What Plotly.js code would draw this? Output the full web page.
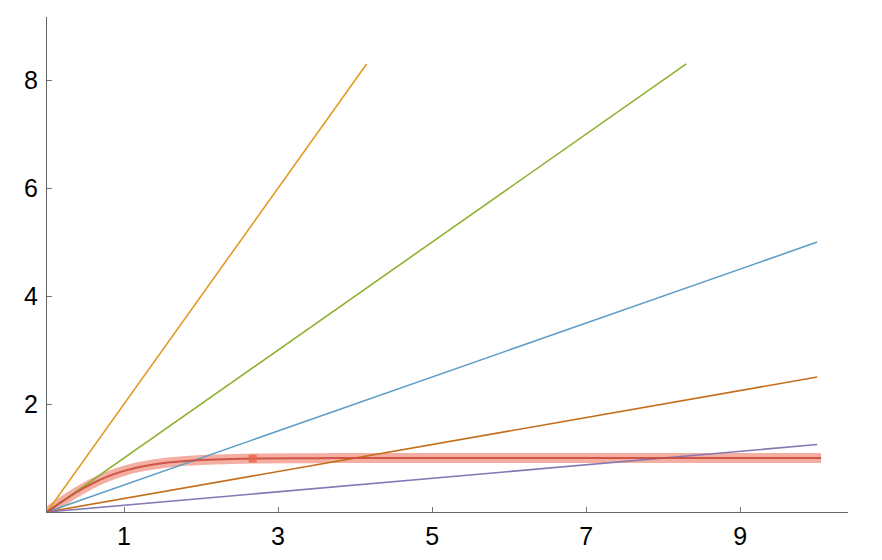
<!DOCTYPE html>
<html>
<head>
<meta charset="utf-8">
<script src="https://cdn.plot.ly/plotly-3.0.1.min.js"></script>
<style>html,body{margin:0;padding:0;background:#fff;}#chart{width:882px;height:560px;}</style>
</head>
<body>
<div id="chart"></div>
<script>
// Straight lines (endpoints)
const lineSteepX = [0, 4.15];
const lineSteepY = [0, 8.3];
const lineUnitX = [0, 8.3];
const lineUnitY = [0, 8.3];
const lineHalfX = [0, 10];
const lineHalfY = [0, 5.0];
const lineQuarterX = [0, 10];
const lineQuarterY = [0, 2.5];
const lineEighthX = [0, 10];
const lineEighthY = [0, 1.25];

// Saturating curve
const curveX = [0, 0.2, 0.4, 0.6, 0.8, 1.0, 1.2, 1.4, 1.6, 1.8, 2.0, 2.4, 2.8, 3.5, 4, 5, 6, 7, 8, 9, 10.05];
const curveY = [0, 0.197, 0.380, 0.537, 0.664, 0.762, 0.834, 0.885, 0.922, 0.947, 0.964, 0.984, 0.993, 0.998, 0.999, 1, 1, 1, 1, 1, 1];
const markerX = [2.67];
const markerY = [0.99];

const xTicks = [1, 3, 5, 7, 9];
const yTicks = [2, 4, 6, 8];

function ln(x, y, color) {
  return {x: x, y: y, mode: 'lines', line: {color: color, width: 1.6}, hoverinfo: 'skip'};
}

const traces = [
  {x: curveX, y: curveY, mode: 'lines', line: {color: 'rgba(235,110,85,0.55)', width: 10, shape: 'spline'}, hoverinfo: 'skip'},
  ln(lineSteepX, lineSteepY, '#E19C24'),
  ln(lineUnitX, lineUnitY, '#8FB032'),
  ln(lineHalfX, lineHalfY, '#5E9EC8'),
  ln(lineQuarterX, lineQuarterY, '#C56E1A'),
  ln(lineEighthX, lineEighthY, '#8778B3'),
  {x: curveX, y: curveY, mode: 'lines', line: {color: 'rgba(200,70,55,0.85)', width: 2, shape: 'spline'}, hoverinfo: 'skip'},
  {x: markerX, y: markerY, mode: 'markers', marker: {symbol: 'square', size: 8, color: 'rgba(235,100,75,0.8)'}, hoverinfo: 'skip'}
];

const axisFont = {family: 'Liberation Sans, Arial, sans-serif', size: 25, color: '#000'};

const layout = {
  width: 882, height: 560,
  margin: {l: 47, r: 34, t: 17, b: 48},
  paper_bgcolor: '#fff', plot_bgcolor: '#fff',
  showlegend: false,
  xaxis: {
    range: [0, 10.4], tickvals: xTicks, ticktext: xTicks.map(String),
    ticks: 'inside', ticklen: 5, tickcolor: '#777', tickwidth: 1,
    showgrid: false, zeroline: false, showline: true, linecolor: '#666', linewidth: 1,
    tickfont: axisFont, ticklabelstandoff: 2, fixedrange: true
  },
  yaxis: {
    range: [0, 9.17], tickvals: yTicks, ticktext: yTicks.map(String),
    ticks: 'inside', ticklen: 5, tickcolor: '#777', tickwidth: 1,
    showgrid: false, zeroline: false, showline: true, linecolor: '#666', linewidth: 1,
    tickfont: axisFont, ticklabelstandoff: 3, fixedrange: true
  }
};

Plotly.newPlot('chart', traces, layout, {displayModeBar: false, staticPlot: true});
</script>
</body>
</html>
